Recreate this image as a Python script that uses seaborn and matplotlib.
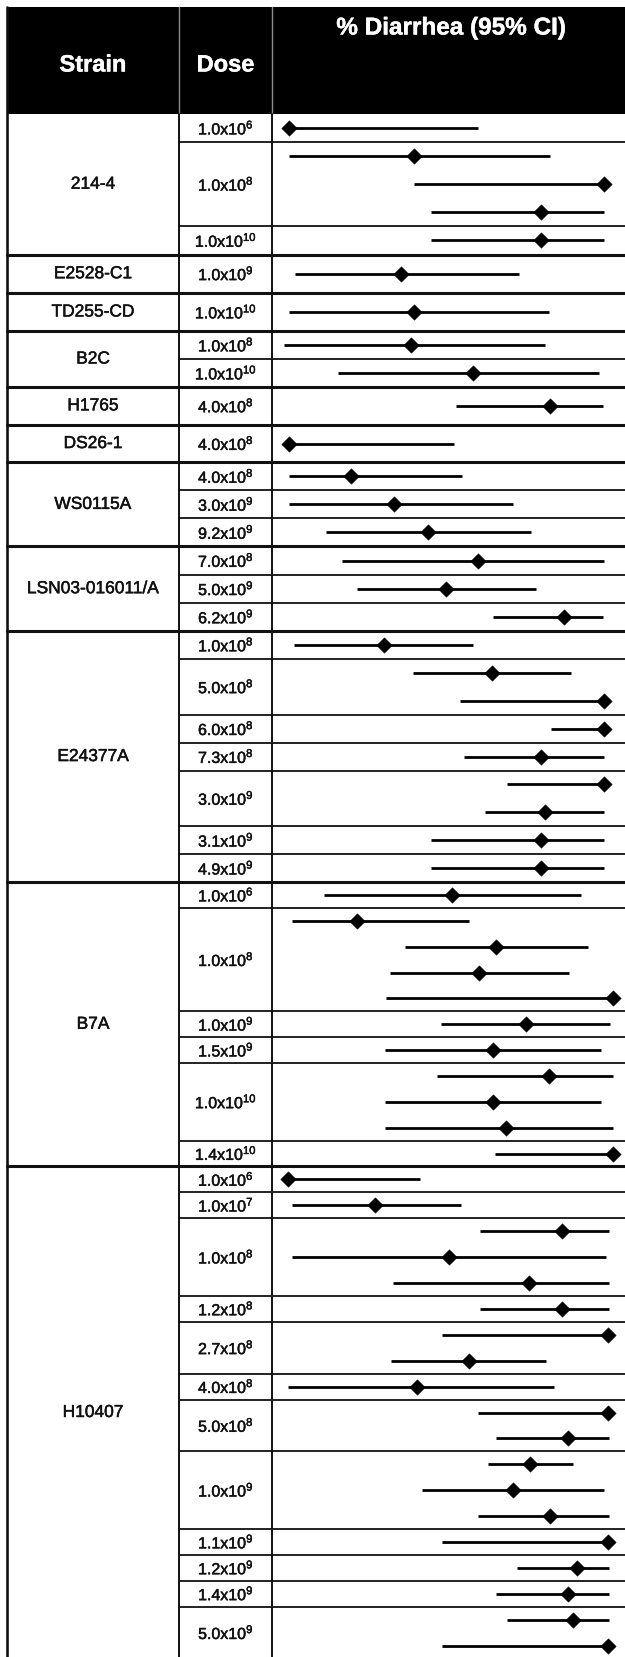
import numpy as np
import pandas as pd
import matplotlib
matplotlib.use("Agg")
import matplotlib.pyplot as plt
import matplotlib.patheffects as pe
import seaborn as sns
from matplotlib.patches import Rectangle

# ---------------- data ----------------
strains = ["214-4", "E2528-C1", "TD255-CD", "B2C", "H1765", "DS26-1",
           "WS0115A", "LSN03-016011/A", "E24377A", "B7A", "H10407"]

row_strain = (["214-4"] * 5 + ["E2528-C1"] + ["TD255-CD"] + ["B2C"] * 2 +
              ["H1765"] + ["DS26-1"] + ["WS0115A"] * 3 + ["LSN03-016011/A"] * 3 +
              ["E24377A"] * 9 + ["B7A"] * 11 + ["H10407"] * 19)

row_dose = [
    # 214-4
    "1.0x10^6", "1.0x10^8", "1.0x10^8", "1.0x10^8", "1.0x10^10",
    # E2528-C1, TD255-CD
    "1.0x10^9", "1.0x10^10",
    # B2C
    "1.0x10^8", "1.0x10^10",
    # H1765, DS26-1
    "4.0x10^8", "4.0x10^8",
    # WS0115A
    "4.0x10^8", "3.0x10^9", "9.2x10^9",
    # LSN03-016011/A
    "7.0x10^8", "5.0x10^9", "6.2x10^9",
    # E24377A
    "1.0x10^8", "5.0x10^8", "5.0x10^8", "6.0x10^8", "7.3x10^8",
    "3.0x10^9", "3.0x10^9", "3.1x10^9", "4.9x10^9",
    # B7A
    "1.0x10^6", "1.0x10^8", "1.0x10^8", "1.0x10^8", "1.0x10^8",
    "1.0x10^9", "1.5x10^9", "1.0x10^10", "1.0x10^10", "1.0x10^10", "1.4x10^10",
    # H10407
    "1.0x10^6", "1.0x10^7", "1.0x10^8", "1.0x10^8", "1.0x10^8", "1.2x10^8",
    "2.7x10^8", "2.7x10^8", "4.0x10^8", "5.0x10^8", "5.0x10^8",
    "1.0x10^9", "1.0x10^9", "1.0x10^9", "1.1x10^9", "1.2x10^9", "1.4x10^9",
    "5.0x10^9", "5.0x10^9",
]

pct_est = [
    0, 39.8, 100, 79.8, 79.8,
    35.4, 39.6,
    38.6, 58.4,
    82.9, 0,
    19.8, 33.2, 44.2,
    59.8, 49.9, 87.1,
    30.0, 64.3, 100, 100, 79.9, 100, 81.3, 79.9, 79.9,
    51.7, 21.5, 65.6, 60.3, 102.8, 75.1, 64.6, 82.4, 64.6, 68.9, 102.8,
    -0.4, 27.3, 86.7, 50.6, 76.1, 86.7, 101.3, 57.0, 40.5, 101.3, 88.6,
    76.5, 71.2, 82.9, 101.3, 91.3, 88.6, 90.0, 101.3,
]
pct_lo = [
    0, 0, 39.8, 44.9, 44.9,
    1.9, 0,
    -1.5, 15.5,
    53.1, 0,
    0, 0, 11.8,
    16.8, 21.7, 64.7,
    1.6, 39.2, 54.1, 83.2, 55.4, 69.0, 62.2, 45.0, 45.0,
    11.1, 1.0, 36.8, 32.0, 30.7, 48.3, 30.5, 46.8, 30.5, 30.5, 65.4,
    -0.4, 0.8, 60.6, 0.8, 32.9, 60.6, 48.4, 32.4, -0.3, 60.1, 65.5,
    63.2, 42.1, 60.1, 48.4, 72.3, 65.5, 69.2, 48.4,
]
pct_hi = [
    60.1, 82.8, 100, 100, 100,
    73.1, 82.4,
    81.3, 98.4,
    99.5, 52.2,
    55.0, 70.9, 76.9,
    99.9, 78.3, 99.7,
    58.5, 89.4, 100, 100, 100, 100, 100, 100, 100,
    92.7, 57.1, 94.7, 88.9, 102.8, 101.8, 98.9, 102.8, 98.9, 102.8, 102.8,
    41.5, 54.4, 101.5, 100.5, 101.5, 101.5, 101.3, 81.4, 83.9, 101.3, 101.5,
    90.0, 100.0, 101.5, 101.3, 101.5, 101.5, 101.5, 101.3,
]

header_labels = ["Strain", "Dose", "% Diarrhea (95% CI)"]

# ---------------- layout (pixels) ----------------
W, H = 625, 1657
X_LEFT, X_SPLIT1, X_SPLIT2 = 7, 179, 272
HEAD_TOP, HEAD_BOT = 7, 114
# height of one study row per strain (single-row strains get a taller cell)
strain_row_h = [28.1, 38.5, 38.0, 28.0, 37.7, 37.7, 28.0, 28.2, 27.9, 25.85, 25.9]

sns.set_theme(style="white")
plt.rcParams["font.family"] = ["Liberation Sans", "DejaVu Sans"]
plt.rcParams["mathtext.fontset"] = "custom"
plt.rcParams["mathtext.rm"] = "Liberation Sans"
plt.rcParams["mathtext.it"] = "Liberation Sans:italic"
plt.rcParams["mathtext.bf"] = "Liberation Sans:bold"

df = pd.DataFrame({"strain": row_strain, "dose": row_dose,
                   "est": pct_est, "lo": pct_lo, "hi": pct_hi})

# compute y positions of every study row, dose cell and strain cell
ys = np.zeros(len(df))
dose_cells = []    # (top, bottom, label)
strain_cells = []  # (top, bottom, label)
y = HEAD_BOT
for si, s in enumerate(strains):
    rh = strain_row_h[si]
    s_top = y
    idx = list(df.index[df["strain"] == s])
    j = 0
    while j < len(idx):
        d = df.loc[idx[j], "dose"]
        k = j
        while k < len(idx) and df.loc[idx[k], "dose"] == d:
            k += 1
        n = k - j
        top = y
        bot = y + n * rh
        for m in range(n):
            ys[idx[j + m]] = top + (m + 0.5) * rh
        dose_cells.append((top, bot, d))
        y = bot
        j = k
    strain_cells.append((s_top, y, s))
df["y"] = ys


def dose_text(d):
    mant, exp = d.split("^")
    return mant + r"$^{" + exp + r"}$"


heavy = [pe.withStroke(linewidth=0.35, foreground="#111111")]
heavy_w = [pe.withStroke(linewidth=0.3, foreground="white")]

fig = plt.figure(figsize=(W / 100, H / 100), dpi=100)
ax = fig.add_axes([0, 0, 1, 1])
ax.set_xlim(0, W)
ax.set_ylim(H, 0)
ax.axis("off")

# header band
ax.add_patch(Rectangle((X_LEFT, HEAD_TOP), W - X_LEFT, HEAD_BOT - HEAD_TOP,
                       facecolor="black", edgecolor="none", zorder=1))
for xv in (X_SPLIT1, X_SPLIT2):
    ax.plot([xv, xv], [HEAD_TOP, HEAD_BOT], color="#8a8a8a", lw=1.0, zorder=2)
ax.text((X_LEFT + X_SPLIT1) / 2, 65, header_labels[0], color="white",
        fontsize=17, fontweight="bold", ha="center", va="center", zorder=3,
        path_effects=heavy_w)
ax.text((X_SPLIT1 + X_SPLIT2) / 2, 65, header_labels[1], color="white",
        fontsize=17, fontweight="bold", ha="center", va="center", zorder=3,
        path_effects=heavy_w)
ax.text(451, 28, header_labels[2], color="white",
        fontsize=17.5, fontweight="bold", ha="center", va="center", zorder=3,
        path_effects=heavy_w)

bottom = H + 10
# vertical lines
ax.plot([X_LEFT, X_LEFT], [HEAD_TOP, bottom], color="#111111", lw=1.9, zorder=2)
ax.plot([X_SPLIT1, X_SPLIT1], [HEAD_BOT, bottom], color="#111111", lw=1.4, zorder=2)
ax.plot([X_SPLIT2, X_SPLIT2], [HEAD_BOT, bottom], color="#111111", lw=1.4, zorder=2)

# dose separators and labels
for top, bot, d in dose_cells:
    ax.plot([X_SPLIT1, W], [bot, bot], color="#111111", lw=1.3, zorder=2)
    ax.text((X_SPLIT1 + X_SPLIT2) / 2 + 0.5, (top + bot) / 2, dose_text(d),
            fontsize=11.5, ha="center", va="center", color="#111111", zorder=3,
            path_effects=heavy)

# strain separators and labels
for top, bot, s in strain_cells:
    ax.plot([X_LEFT, W], [bot, bot], color="#111111", lw=2.2, zorder=2)
    ax.text(93, (top + bot) / 2, s,
            fontsize=12.5, ha="center", va="center", color="#111111", zorder=3,
            path_effects=heavy)

# forest plot column
zero_px, hundred_px = 289.0, 604.3
ppp = (hundred_px - zero_px) / 100.0
xlim = (-(zero_px - X_SPLIT2) / ppp, 100 + (W - hundred_px) / ppp)
pax = fig.add_axes([X_SPLIT2 / W, 0, (W - X_SPLIT2) / W, 1])
pax.patch.set_alpha(0)

pax.hlines(df["y"], df["lo"], df["hi"], color="black", lw=2.0, zorder=3)
sns.scatterplot(data=df, x="est", y="y", marker="D", s=62, color="black",
                edgecolor="black", linewidth=0.3, ax=pax, zorder=4, legend=False)
pax.set_xlim(*xlim)
pax.set_ylim(H, 0)
pax.axis("off")

fig.savefig("out.png", dpi=100)
